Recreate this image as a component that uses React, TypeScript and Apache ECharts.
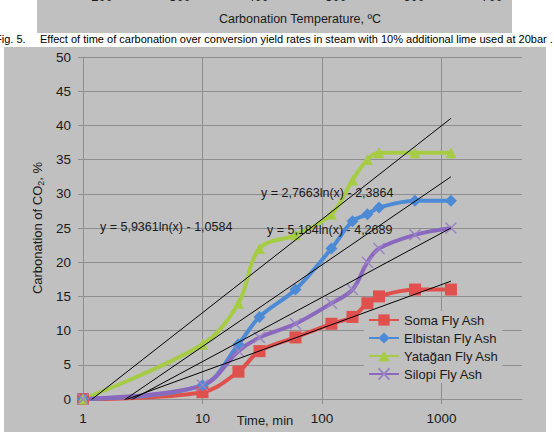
import React, { useEffect, useRef } from "react";
import * as echarts from "echarts";

// Carbonation time in minutes (log axis)
const times = [1, 10, 20, 30, 60, 120, 180, 240, 300, 600, 1200];

const seriesNames = ["Soma Fly Ash", "Elbistan Fly Ash", "Yatağan Fly Ash", "Silopi Fly Ash"];

// Carbonation of CO2, %
const soma = [0, 1, 4, 7, 9, 11, 12, 14, 15, 16, 16];
const elbistan = [0, 2, 8, 12, 16, 22, 26, 27, 28, 29, 29];
const yatagan = [0, 8, 14, 22, 24, 27, 32, 35, 36, 36, 36];
const silopi = [0, 2, 7, 9, 11, 14, 16, 20, 22, 24, 25];

// Logarithmic trend lines y = a ln(x) + b, as [a, b]
const somaTrend = [2.7663, -2.3864];
const elbistanTrend = [5.184, -4.2689];
const yataganTrend = [5.9361, -1.0584];
const silopiTrend = [4.08, -3.93];

const xTickValues = [1, 10, 100, 1000];
const tempTickLabels = ["200", "300", "400", "500", "600", "700"];

const FONT = "'Liberation Sans', Arial, sans-serif";
const TEXT = "#1a1a1a";
const PANEL = "#c0c0c0";
const GRID = "#8e8e8e";

const colors = ["#e0504d", "#4d8ad6", "#a6cc46", "#8a68bd"];

const fmt = (v: number) => String(v).replace(".", ",");
const eqText = (c: number[]) => `y = ${fmt(c[0])}ln(x) - ${fmt(-c[1])}`;

const trendPoints = (c: number[]) => {
  const x0 = times[0];
  const x1 = times[times.length - 1];
  return [
    [x0, c[0] * Math.log(x0) + c[1]],
    [x1, c[0] * Math.log(x1) + c[1]],
  ];
};

export default function App() {
  const ref = useRef<HTMLDivElement>(null);

  useEffect(() => {
    if (!ref.current) return;
    const chart = echarts.init(ref.current, undefined, { renderer: "svg" });

    const dataSets = [soma, elbistan, yatagan, silopi];
    const symbols = ["rect", "diamond", "triangle", "path://M0 0L10 10M10 0L0 10"];
    const symbolSizes = [12, 12, 11, 11];

    const dataSeries = dataSets.map((vals, i) => ({
      name: seriesNames[i],
      type: "line",
      smooth: 0.35,
      data: vals.map((v, k) => [times[k], v]),
      symbol: symbols[i],
      symbolSize: symbolSizes[i],
      lineStyle: { color: colors[i], width: 4 },
      itemStyle:
        i === 3
          ? { color: colors[i], borderColor: "#9a82c6", borderWidth: 1.4 }
          : { color: colors[i] },
      z: 3,
    }));

    const trends = [somaTrend, elbistanTrend, yataganTrend, silopiTrend];
    const trendSeries = trends.map((c, i) => ({
      name: "trend-" + i,
      type: "line",
      data: trendPoints(c),
      symbol: "none",
      lineStyle: { color: "#000", width: 1 },
      clip: true,
      silent: true,
      z: 4,
    }));

    const labelStyle = { fontSize: 12.5, fontFamily: FONT, fill: TEXT, verticalAlign: "middle" as const };

    chart.setOption({
      animation: false,
      backgroundColor: "#ffffff",
      textStyle: { fontFamily: FONT, color: TEXT },
      grid: { left: 83, right: 32, top: 57, bottom: 33 },
      legend: {
        data: seriesNames,
        orient: "vertical",
        left: 364,
        top: 311,
        padding: [2, 4, 2, 4],
        backgroundColor: PANEL,
        itemWidth: 30,
        itemHeight: 14,
        itemGap: 4,
        textStyle: { fontSize: 13, color: TEXT, fontFamily: FONT, lineHeight: 14 },
      },
      xAxis: {
        type: "log",
        logBase: 10,
        min: 1,
        max: 4720,
        axisLine: { show: true, onZero: false, lineStyle: { color: GRID, width: 1 } },
        axisTick: { show: true, length: 5, customValues: xTickValues, lineStyle: { color: GRID } },
        axisLabel: {
          customValues: xTickValues,
          fontSize: 13.5,
          color: TEXT,
          margin: 12,
          formatter: (v: number) => String(Math.round(v)),
        },
        splitLine: { show: true, lineStyle: { color: GRID, width: 1 } },
        minorTick: { show: false },
      },
      yAxis: {
        type: "value",
        min: 0,
        max: 50,
        interval: 5,
        name: "{a|Carbonation of CO}{s|2}{a|, %}",
        nameLocation: "middle",
        nameGap: 31,
        nameRotate: 90,
        nameTextStyle: {
          rich: {
            a: { fontSize: 13, color: TEXT, fontFamily: FONT, lineHeight: 16 },
            s: { fontSize: 9, color: TEXT, fontFamily: FONT, lineHeight: 10, verticalAlign: "bottom" },
          },
        },
        axisLine: { show: true, lineStyle: { color: GRID } },
        axisTick: { show: true, length: 5, lineStyle: { color: GRID } },
        axisLabel: { fontSize: 13.5, color: TEXT, margin: 12 },
        splitLine: { show: true, lineStyle: { color: GRID, width: 1 } },
      },
      graphic: [
        // panels
        { type: "rect", z: -10, silent: true, shape: { x: 37, y: 0, width: 475, height: 33 }, style: { fill: PANEL } },
        { type: "rect", z: -10, silent: true, shape: { x: 4, y: 47, width: 542, height: 385 }, style: { fill: PANEL } },
        // temperature axis labels of the figure above, running off the top edge
        ...tempTickLabels.map((t, i) => ({
          type: "text",
          x: 102 + i * 78,
          y: -4,
          style: { text: t, fontSize: 13, fontFamily: FONT, fill: TEXT, align: "center", verticalAlign: "middle" },
        })),
        {
          type: "text",
          x: 300,
          y: 19,
          style: {
            text: "Carbonation Temperature, ºC",
            fontSize: 12.5,
            fontFamily: FONT,
            fill: TEXT,
            align: "center",
            verticalAlign: "middle",
          },
        },
        // caption
        {
          type: "text",
          x: -5,
          y: 39,
          style: { text: "Fig. 5.", fontSize: 11, fontFamily: FONT, fill: "#000", verticalAlign: "middle" },
        },
        {
          type: "text",
          x: 40,
          y: 39,
          style: {
            text: "Effect of time of carbonation over conversion yield rates in steam with 10% additional lime used at 20bar .",
            fontSize: 11,
            fontFamily: FONT,
            fill: "#000",
            verticalAlign: "middle",
          },
        },
        // x axis title
        {
          type: "text",
          x: 265,
          y: 420,
          style: { text: "Time, min", fontSize: 13, fontFamily: FONT, fill: TEXT, align: "center", verticalAlign: "middle" },
        },
        // trend equations
        { type: "text", x: 100, y: 227, z: 10, style: { ...labelStyle, text: eqText(yataganTrend) } },
        { type: "text", x: 261, y: 193, z: 10, style: { ...labelStyle, text: eqText(somaTrend) } },
        { type: "text", x: 267, y: 230, z: 10, style: { ...labelStyle, text: eqText(elbistanTrend) } },
      ],
      series: [...dataSeries, ...trendSeries],
    });

    return () => chart.dispose();
  }, []);

  return (
    <div
      ref={ref}
      style={{ position: "fixed", left: 0, top: 0, width: 554, height: 432 }}
    />
  );
}
